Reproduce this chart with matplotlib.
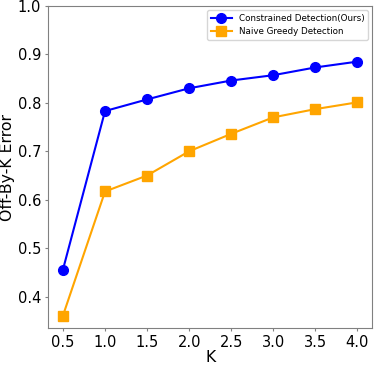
import numpy as np
import matplotlib.pyplot as plt

# Datos
k_values = [0.5, 1.0, 1.5, 2.0, 2.5, 3.0, 3.5, 4.0]
constrained = [0.456, 0.783, 0.807, 0.830, 0.846, 0.857, 0.873, 0.885]
naive = [0.361, 0.617, 0.650, 0.700, 0.736, 0.770, 0.787, 0.801]

fig, ax = plt.subplots(figsize=(3.74, 3.68), dpi=100)

ax.plot(k_values, constrained, color='blue', marker='o', markersize=7,
        linewidth=1.5, label='Constrained Detection(Ours)')
ax.plot(k_values, naive, color='orange', marker='s', markersize=7,
        linewidth=1.5, label='Naive Greedy Detection')

ax.set_ylim(top=1.0)
ax.set_xticks(k_values)
ax.tick_params(labelsize=10.5, length=2.5, pad=2.5, color='gray')
ax.set_xlabel('K', fontsize=11.3, labelpad=0)
ax.set_ylabel('Off-By-K Error', fontsize=11.3, labelpad=2)
for s in ax.spines.values():
    s.set_color('gray')
ax.legend(fontsize=6.3, loc='upper right', handlelength=2.4)

fig.subplots_adjust(left=0.129, right=0.995, top=0.984, bottom=0.108)
fig.savefig('out.png', dpi=100)
